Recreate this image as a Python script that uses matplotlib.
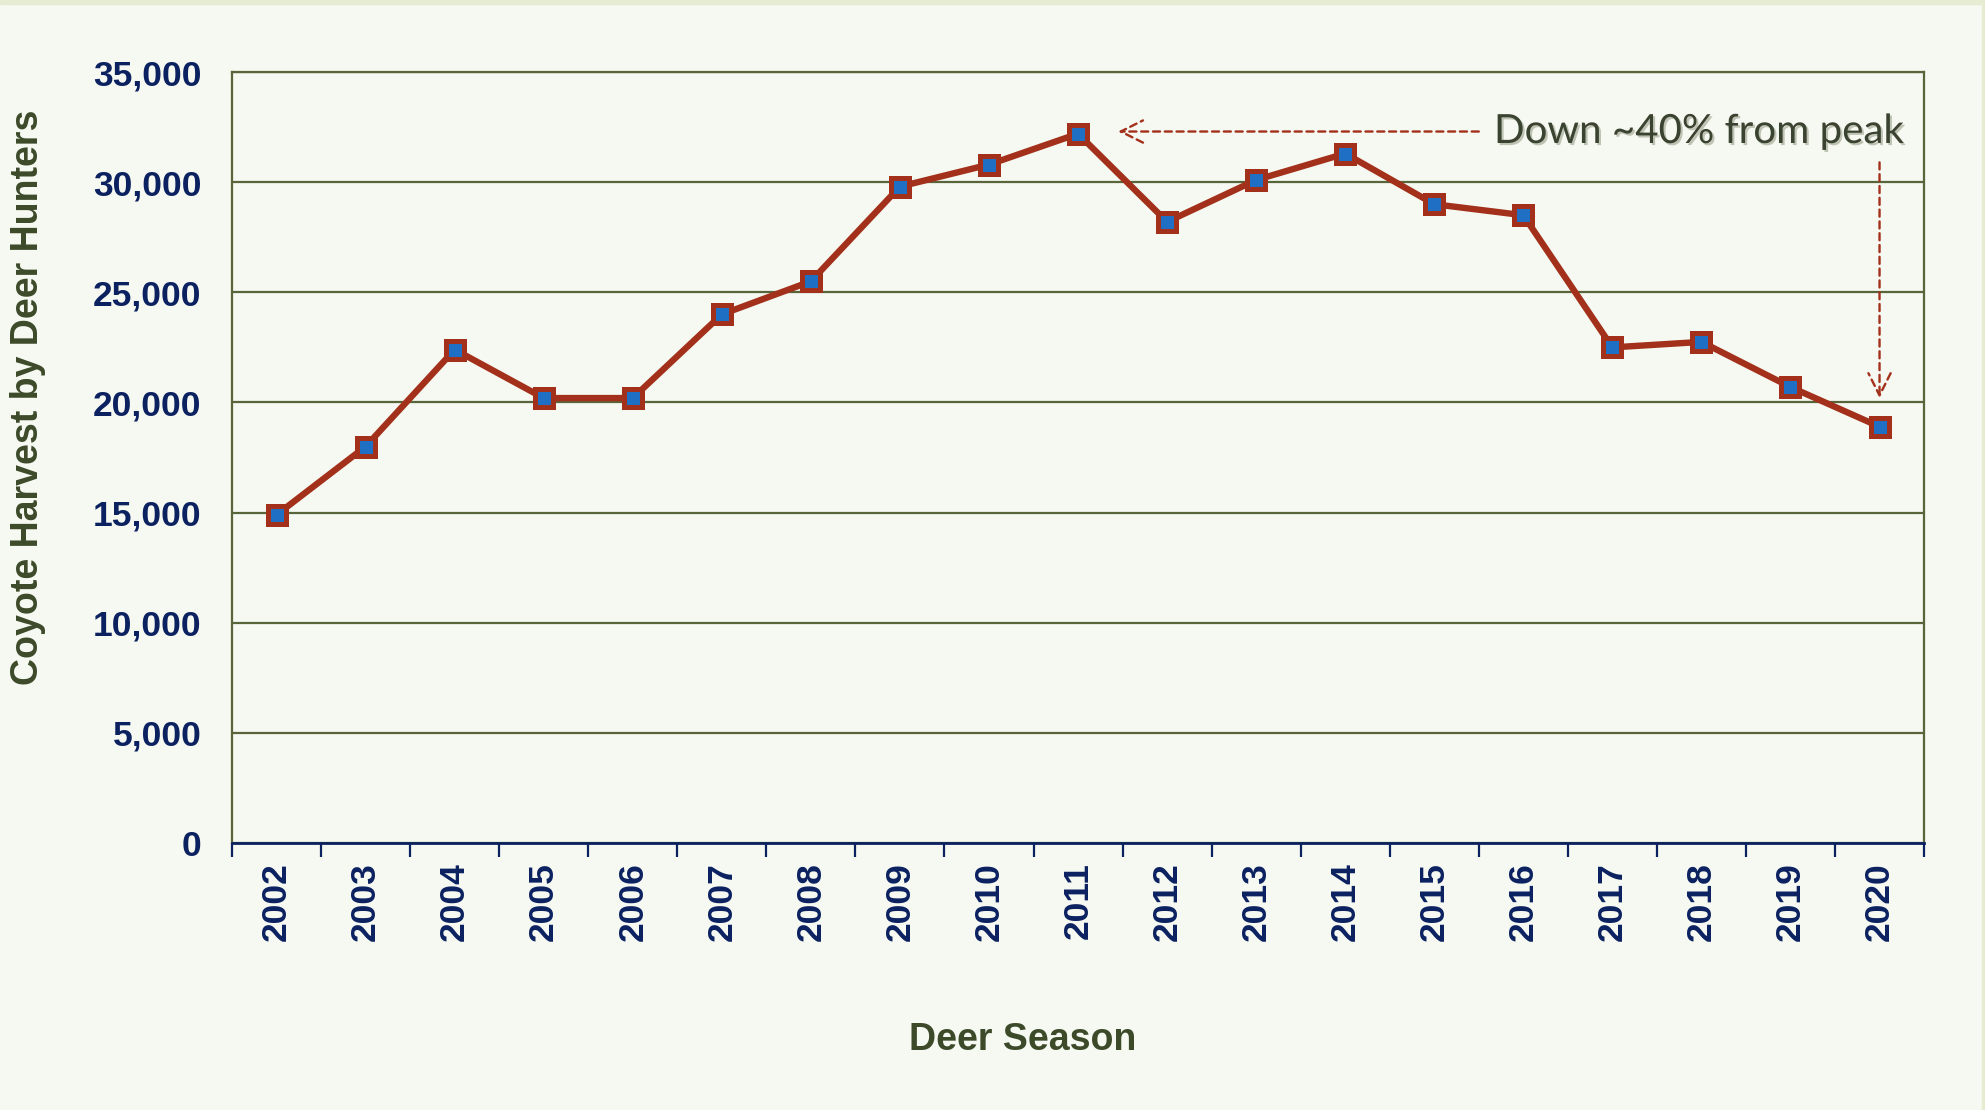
import numpy as np
from matplotlib import pyplot as plt
from matplotlib import patheffects as pe
from matplotlib.patches import Rectangle
from matplotlib.ticker import FuncFormatter, FixedLocator

# deer seasons and coyote harvest
seasons = [str(y) for y in range(2002, 2021)]
harvest = [14900, 18000, 22400, 20200, 20200, 24000, 25500, 29800, 30800, 32200,
           28200, 30100, 31300, 29000, 28500, 22500, 22750, 20700, 18900]

bg = "#f6f9f1"
navy = "#0b2160"
olive = "#58653a"
red = "#a3301b"

fig = plt.figure(figsize=(19.85, 11.1), dpi=100, facecolor=bg)
# thin frame strips at top and right edge
fig.patches.append(Rectangle((0, 0.9965), 1, 0.0035, transform=fig.transFigure,
                             color="#e4ecd2", zorder=0))
fig.patches.append(Rectangle((0.9985, 0), 0.0015, 1, transform=fig.transFigure,
                             color="#e4ecd2", zorder=0))

ax = fig.add_axes([0.1169, 0.2405, 0.8524, 0.6946])
ax.set_facecolor(bg)

x = np.arange(len(seasons))
ax.plot(x, harvest, color=red, lw=4.6, marker="s", markersize=13,
        markerfacecolor="#1f6fc4", markeredgecolor=red, markeredgewidth=3.6, zorder=3)

ax.set_xlim(-0.5, len(seasons) - 0.5)
ax.set_ylim(0, 35000)
ax.set_yticks(np.arange(0, 35001, 5000))
ax.yaxis.set_major_formatter(FuncFormatter(lambda v, p: f"{int(v):,}"))
ax.grid(axis="y", color=olive, lw=1.6)
ax.set_axisbelow(True)

ax.set_xticks(x)
ax.set_xticklabels(seasons, rotation=90)
ax.xaxis.set_minor_locator(FixedLocator(np.arange(-0.5, len(seasons), 1)))
ax.tick_params(axis="x", which="major", length=0, pad=14)
ax.tick_params(axis="x", which="minor", length=10, width=1.6, color=navy, direction="out")
ax.tick_params(axis="y", length=0, pad=22)
for lab in ax.get_xticklabels() + ax.get_yticklabels():
    lab.set_fontfamily("Liberation Sans")
    lab.set_fontweight("bold")
    lab.set_fontsize(25.5)
    lab.set_color(navy)

for s in ["top", "left", "right"]:
    ax.spines[s].set_color(olive)
    ax.spines[s].set_linewidth(1.6)
ax.spines["bottom"].set_color(navy)
ax.spines["bottom"].set_linewidth(2)

fig.text(0.014, 0.642, "Coyote Harvest by Deer Hunters", rotation=90, ha="center", va="center",
         fontsize=27, fontweight="bold", color="#3c4a2a", family="Liberation Sans")
fig.text(0.515, 0.063, "Deer Season", ha="center", va="center",
         fontsize=27, fontweight="bold", color="#3c4a2a", family="Liberation Sans")

# annotation
ax.annotate("", xy=(9.45, 32300), xytext=(13.5, 32300),
            arrowprops=dict(arrowstyle="->", color=red, lw=1.7, ls=(0, (3, 2)),
                            mutation_scale=40, shrinkA=0, shrinkB=0))
ax.annotate("", xy=(18, 20200), xytext=(18, 30900),
            arrowprops=dict(arrowstyle="->", color=red, lw=1.7, ls=(0, (3, 2)),
                            mutation_scale=40, shrinkA=0, shrinkB=0))
ax.text(18.27, 32300, "Down ~40% from peak", ha="right", va="center", fontsize=29,
        color="#3a4230", family="Lato",
        path_effects=[pe.withSimplePatchShadow(offset=(1.5, -1.5), shadow_rgbFace="#9aa08c", alpha=0.6)])

fig.savefig("out.png", dpi=100, facecolor=bg)
